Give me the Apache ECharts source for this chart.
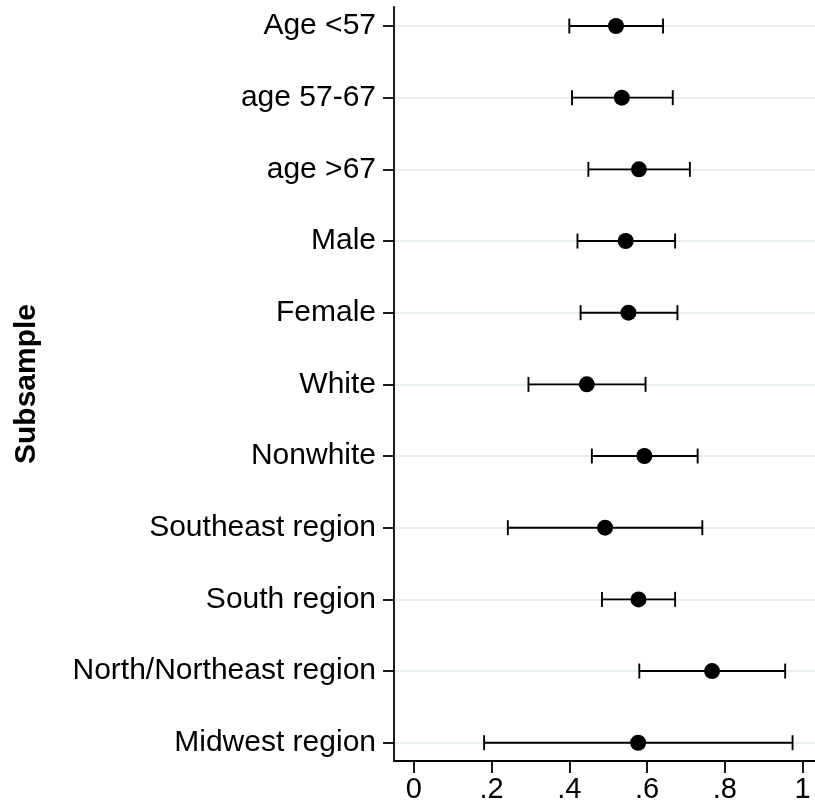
<!DOCTYPE html>
<html>
<head>
<meta charset="utf-8">
<script src="https://cdn.jsdelivr.net/npm/echarts@6/dist/echarts.min.js"></script>
<style>
  html, body { margin: 0; padding: 0; background: #fff; }
  #chart { width: 815px; height: 810px; }
</style>
</head>
<body>
<div id="chart"></div>
<script>
// Subsample estimates with 95% confidence intervals
const subsamples = ['Age <57', 'age 57-67', 'age >67', 'Male', 'Female', 'White', 'Nonwhite',
  'Southeast region', 'South region', 'North/Northeast region', 'Midwest region'];
const estimates = [0.520, 0.535, 0.579, 0.545, 0.552, 0.445, 0.593, 0.492, 0.578, 0.767, 0.577];
const lowerCI   = [0.400, 0.407, 0.449, 0.421, 0.429, 0.295, 0.458, 0.242, 0.484, 0.580, 0.181];
const upperCI   = [0.641, 0.666, 0.710, 0.672, 0.678, 0.596, 0.730, 0.742, 0.672, 0.955, 0.974];
const xTicks    = [0, 0.2, 0.4, 0.6, 0.8, 1];

const rowPos = subsamples.map((_, i) => i + 1);
const ciData = subsamples.map((_, i) => [lowerCI[i], upperCI[i], rowPos[i]]);
const pointData = subsamples.map((_, i) => [estimates[i], rowPos[i]]);

const FONT = '"Liberation Sans", Arial, Helvetica, sans-serif';

const chart = echarts.init(document.getElementById('chart'), null, { renderer: 'canvas' });

function fmtTick(v) {
  if (v === 0) return '0';
  if (v === 1) return '1';
  return v.toFixed(1).replace(/^0/, '');
}

chart.setOption({
  animation: false,
  backgroundColor: '#ffffff',
  grid: { left: 394, right: 0, top: 7, bottom: 49 },
  xAxis: {
    type: 'value',
    min: -0.0507,
    max: 1.0317,
    axisLine: { show: true, onZero: false, lineStyle: { color: '#000', width: 1.8 } },
    axisTick: { show: true, length: 12, customValues: xTicks, lineStyle: { color: '#000', width: 1.8 } },
    axisLabel: {
      customValues: xTicks,
      formatter: fmtTick,
      color: '#000', fontFamily: FONT, fontSize: 29, margin: 14
    },
    splitLine: { show: false }
  },
  yAxis: {
    type: 'value',
    inverse: true,
    min: 0.735,
    max: 11.255,
    name: 'Subsample',
    nameLocation: 'middle',
    nameRotate: 90,
    nameGap: 352,
    nameTextStyle: { fontFamily: FONT, fontSize: 30, fontWeight: 'bold', color: '#000' },
    axisLine: { show: true, onZero: false, lineStyle: { color: '#000', width: 1.8 } },
    axisTick: { show: true, length: 11, customValues: rowPos, lineStyle: { color: '#000', width: 1.8 } },
    axisLabel: {
      customValues: rowPos,
      formatter: v => subsamples[Math.round(v) - 1] || '',
      color: '#000', fontFamily: FONT, fontSize: 30, margin: 18
    },
    splitLine: { show: true, lineStyle: { color: '#e6eef0', width: 2 } }
  },
  series: [
    {
      type: 'custom',
      data: ciData,
      encode: { x: [0, 1], y: 2 },
      renderItem: function (params, api) {
        const lo = api.coord([api.value(0), api.value(2)]);
        const hi = api.coord([api.value(1), api.value(2)]);
        const cap = 7.5;
        const style = { stroke: '#000', lineWidth: 1.9 };
        return {
          type: 'group',
          children: [
            { type: 'line', shape: { x1: lo[0], y1: lo[1], x2: hi[0], y2: hi[1] }, style: style },
            { type: 'line', shape: { x1: lo[0], y1: lo[1] - cap, x2: lo[0], y2: lo[1] + cap }, style: style },
            { type: 'line', shape: { x1: hi[0], y1: hi[1] - cap, x2: hi[0], y2: hi[1] + cap }, style: style }
          ]
        };
      },
      z: 2
    },
    {
      type: 'scatter',
      data: pointData,
      symbol: 'circle',
      symbolSize: 16,
      itemStyle: { color: '#000', opacity: 1 },
      z: 3
    }
  ]
});
</script>
</body>
</html>
